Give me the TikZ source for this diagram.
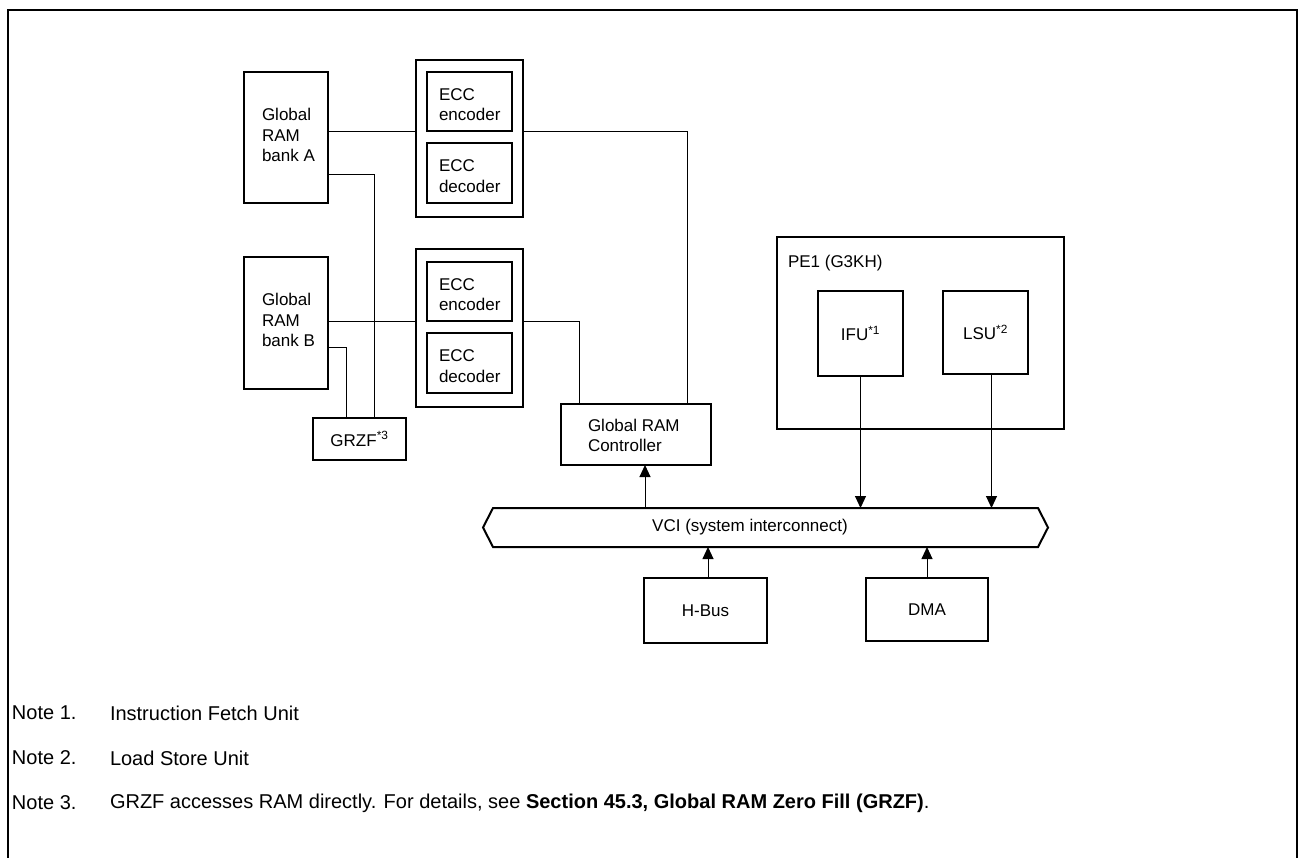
\documentclass[tikz,border=0pt]{standalone}
\usepackage{fontspec}
\setmainfont{Liberation Sans}
\usetikzlibrary{arrows.meta}
\begin{document}
\begin{tikzpicture}[x=1pt,y=-1pt,
  every node/.style={font=\fontsize{17}{20.5}\selectfont, inner sep=0pt, outer sep=0pt},
  box/.style={draw, line width=2pt, anchor=north west, inner sep=0pt},
  outerbox/.style={draw, line width=2.5pt, anchor=north west, inner sep=0pt},
  lbl/.style={anchor=west, align=left},
  notetxt/.style={anchor=west, font=\fontsize{20}{24}\selectfont},
  conn/.style={line width=1pt},
  arr/.style={line width=1pt, -{Triangle[length=12pt,width=11pt]}}]
\useasboundingbox (0,0) rectangle (1303,857);
% outer frame (open at bottom)
\coordinate (fbl) at (8,858);
\coordinate (ftl) at (8,10);
\coordinate (ftr) at (1297,10);
\coordinate (fbr) at (1297,858);
\draw[line width=2pt] (fbl) -- (ftl) -- (ftr) -- (fbr);

% RAM banks
\node[box, minimum width=84pt, minimum height=131pt] (bankA) at (244,72) {};
\node[lbl] (bankAt) at (262,135) {Global\\RAM\\bank A};
\node[box, minimum width=84pt, minimum height=132pt] (bankB) at (244,257) {};
\node[lbl] (bankBt) at (262,320) {Global\\RAM\\bank B};

% ECC blocks
\node[outerbox, minimum width=107pt, minimum height=157pt] (eccA) at (416,60) {};
\node[box, minimum width=85pt, minimum height=59pt] (encA) at (427,72) {};
\node[box, minimum width=85pt, minimum height=60pt] (decA) at (427,143) {};
\node[lbl] (encAt) at (439,104.5) {ECC\\encoder};
\node[lbl] (decAt) at (439,176.3) {ECC\\decoder};

\node[outerbox, minimum width=107pt, minimum height=158pt] (eccB) at (416,249) {};
\node[box, minimum width=85pt, minimum height=59pt] (encB) at (427,262) {};
\node[box, minimum width=85pt, minimum height=60pt] (decB) at (427,333) {};
\node[lbl] (encBt) at (439,294.7) {ECC\\encoder};
\node[lbl] (decBt) at (439,366.3) {ECC\\decoder};

% GRZF
\node[box, minimum width=93pt, minimum height=42pt] (grzf) at (313,418) {};
\node (grzft) at (grzf.center) {GRZF\textsuperscript{*3}};

% Global RAM Controller
\node[box, minimum width=150pt, minimum height=61pt] (grc) at (561,404) {};
\node[lbl] (grct) at (588,435.3) {Global RAM\\Controller};

% PE1
\node[box, minimum width=287pt, minimum height=192pt] (pe1) at (777,237) {};
\node[anchor=base west] (pe1t) at (788,267) {PE1 (G3KH)};
\node[box, minimum width=85pt, minimum height=85pt] (ifu) at (818,291) {};
\node (ifut) at (ifu.center) {IFU\textsuperscript{*1}};
\node[box, minimum width=85pt, minimum height=83pt] (lsu) at (943,291) {};
\node (lsut) at (lsu.center) {LSU\textsuperscript{*2}};

% VCI
\node[anchor=north west, minimum width=565pt, minimum height=39pt] (vci) at (483,508) {};
\draw[line width=2pt, line join=miter] (vci.west) -- ([xshift=10pt]vci.north west) -- ([xshift=-10pt]vci.north east)
  -- (vci.east) -- ([xshift=-10pt]vci.south east) -- ([xshift=10pt]vci.south west) -- cycle;
\node (vcit) at (750,527.5) {VCI (system interconnect)};

% H-Bus, DMA
\node[box, minimum width=123pt, minimum height=65pt] (hbus) at (644,578) {};
\node (hbust) at (hbus.center) {H-Bus};
\node[box, minimum width=122pt, minimum height=63pt] (dma) at (866,578) {};
\node (dmat) at (dma.center) {DMA};

% connectors
\draw[conn] (bankA.east |- encA.south) -- (eccA.west |- encA.south);
\draw[conn] (eccA.east |- encA.south) -| ([xshift=-24pt]grc.north east);
\draw[conn] ([yshift=29pt]bankA.south east) -| ([xshift=-32pt]grzf.north east);
\draw[conn] (bankB.east |- encB.south) -- (eccB.west |- encB.south);
\draw[conn] (eccB.east |- encB.south) -| ([xshift=18pt]grc.north west);
\draw[conn] ([yshift=42pt]bankB.south east) -| ([xshift=33pt]grzf.north west);

\draw[arr] ([xshift=9pt]grc.south |- vci.north) -- ([xshift=9pt]grc.south);
\draw[arr] (ifu.south) -- (ifu.south |- vci.north);
\draw[arr] ([xshift=6pt]lsu.south) -- ([xshift=6pt]lsu.south |- vci.north);
\draw[arr] ([xshift=2.5pt]hbus.north) -- ([xshift=2.5pt]hbus.north |- vci.south);
\draw[arr] (dma.north) -- (dma.north |- vci.south);

% notes
\node[notetxt] (n1a) at (12,713) {Note 1.};
\node[notetxt] (n1b) at (110,713) {Instruction Fetch Unit};
\node[notetxt] (n2a) at (12,758) {Note 2.};
\node[notetxt] (n2b) at (110,758) {Load Store Unit};
\node[notetxt] (n3a) at (12,803) {Note 3.};
\node[notetxt] (n3b) at (110,803) {GRZF accesses RAM directly. For details, see \textbf{Section 45.3, Global RAM Zero Fill (GRZF)}.};
\end{tikzpicture}
\end{document}
